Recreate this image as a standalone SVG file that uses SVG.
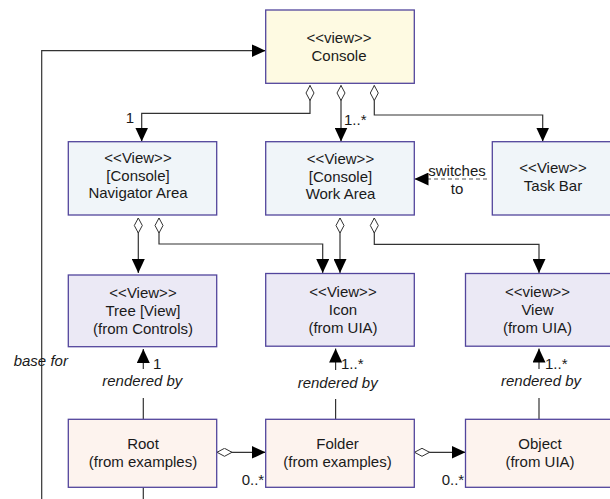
<svg xmlns="http://www.w3.org/2000/svg" width="610" height="499" viewBox="0 0 610 499">
<defs>
<style>
.box{stroke:#52459c;stroke-width:1.3}
.y{fill:#fefae2}
.b{fill:#f0f5f9}
.l{fill:#ebe9f5}
.p{fill:#fdf3ee}
text{font-family:"Liberation Sans",Arial,sans-serif;font-size:15px;fill:#1a1a1a}
.c{text-anchor:middle}
.i{font-style:italic}
.ln{fill:none;stroke:#333;stroke-width:1.2}
.da{stroke-dasharray:4,3;stroke:#555}
</style>
<marker id="ah" markerUnits="userSpaceOnUse" markerWidth="14" markerHeight="13" refX="14" refY="6.5" orient="auto">
<path d="M0,0 L14,6.5 L0,13 z" fill="#000"/>
</marker>
<marker id="dm" markerUnits="userSpaceOnUse" markerWidth="16" markerHeight="10" refX="0.5" refY="4.5" orient="auto">
<path d="M0.5,4.5 L8,0.5 L15.5,4.5 L8,8.5 z" fill="#fff" stroke="#333" stroke-width="1"/>
</marker>
</defs>

<g id="connectors">
<path class="ln" d="M143.3,487 V510 H41.7 V50.7 H265.5" marker-end="url(#ah)"/>
<path class="ln" d="M310,85.5 V113.3 H141.7 V141.5" marker-start="url(#dm)" marker-end="url(#ah)"/>
<path class="ln" d="M341,85.5 V141.5" marker-start="url(#dm)" marker-end="url(#ah)"/>
<path class="ln" d="M374.3,85.5 V115 H542.7 V141.5" marker-start="url(#dm)" marker-end="url(#ah)"/>
<path class="ln da" d="M487,179 H414.5" marker-end="url(#ah)"/>
<path class="ln" d="M138.3,218 V273" marker-start="url(#dm)" marker-end="url(#ah)"/>
<path class="ln" d="M159,218 V244 H322.7 V273" marker-start="url(#dm)" marker-end="url(#ah)"/>
<path class="ln" d="M340,218 V273" marker-start="url(#dm)" marker-end="url(#ah)"/>
<path class="ln" d="M374.3,218 V244.3 H539 V273" marker-start="url(#dm)" marker-end="url(#ah)"/>
<path class="ln" d="M143.3,419 V349" marker-end="url(#ah)"/>
<path class="ln" d="M335.6,419 V348.5" marker-end="url(#ah)"/>
<path class="ln" d="M539,419 V348.5" marker-end="url(#ah)"/>
<path class="ln" d="M217,452.3 H265.5" marker-start="url(#dm)" marker-end="url(#ah)"/>
<path class="ln" d="M414.5,452.3 H465.5" marker-start="url(#dm)" marker-end="url(#ah)"/>
<rect x="100" y="369" width="86" height="29" fill="#fff"/>
<rect x="295" y="370" width="86" height="29" fill="#fff"/>
<rect x="498" y="369" width="86" height="29" fill="#fff"/>
<text x="130" y="123" class="c">1</text>
<text x="344" y="125">1..*</text>
<text x="457" y="176" class="c">switches</text>
<text x="457" y="193.5" class="c">to</text>
<text x="40.8" y="366" class="c i">base for</text>
<text x="153" y="368.7">1</text>
<text x="142.3" y="385.6" class="c i">rendered by</text>
<text x="341" y="368.7">1..*</text>
<text x="337.7" y="387.5" class="c i">rendered by</text>
<text x="545" y="368.7">1..*</text>
<text x="541" y="385.6" class="c i">rendered by</text>
<text x="241.7" y="485.4">0..*</text>
<text x="441.7" y="485.4">0..*</text>
</g>

<g id="console">
<rect class="box y" x="265.7" y="10" width="148.6" height="73.3"/>
<text x="339" y="43" class="c">&lt;&lt;view&gt;&gt;</text>
<text x="339" y="60.5" class="c">Console</text>
</g>

<g id="navigator-area">
<rect class="box b" x="68.3" y="141.7" width="148.4" height="73.3"/>
<text x="138" y="163" class="c">&lt;&lt;View&gt;&gt;</text>
<text x="138" y="180.5" class="c">[Console]</text>
<text x="138" y="198" class="c">Navigator Area</text>
</g>

<g id="work-area">
<rect class="box b" x="265.7" y="141.7" width="148.6" height="73.3"/>
<text x="340.5" y="164" class="c">&lt;&lt;View&gt;&gt;</text>
<text x="340.5" y="181.5" class="c">[Console]</text>
<text x="340.5" y="199" class="c">Work Area</text>
</g>

<g id="task-bar">
<rect class="box b" x="492.3" y="141.7" width="122" height="73.3"/>
<text x="553" y="173" class="c">&lt;&lt;View&gt;&gt;</text>
<text x="553" y="191.3" class="c">Task Bar</text>
</g>

<g id="tree">
<rect class="box l" x="68.3" y="275" width="148.4" height="71.7"/>
<text x="143" y="298" class="c">&lt;&lt;View&gt;&gt;</text>
<text x="143" y="316" class="c">Tree [View]</text>
<text x="143" y="333.6" class="c">(from Controls)</text>
</g>

<g id="icon">
<rect class="box l" x="265.7" y="273.5" width="148.6" height="72.7"/>
<text x="343" y="297" class="c">&lt;&lt;View&gt;&gt;</text>
<text x="343" y="315" class="c">Icon</text>
<text x="343" y="332.5" class="c">(from UIA)</text>
</g>

<g id="view">
<rect class="box l" x="465.5" y="273.5" width="149" height="72.7"/>
<text x="537.5" y="297" class="c">&lt;&lt;view&gt;&gt;</text>
<text x="537.5" y="315" class="c">View</text>
<text x="537.5" y="332.5" class="c">(from UIA)</text>
</g>

<g id="root">
<rect class="box p" x="68.3" y="419.3" width="148.4" height="68"/>
<text x="143" y="449.3" class="c">Root</text>
<text x="143" y="467" class="c">(from examples)</text>
</g>

<g id="folder">
<rect class="box p" x="265.7" y="419.3" width="148.6" height="68"/>
<text x="337.5" y="449.3" class="c">Folder</text>
<text x="337.5" y="467" class="c">(from examples)</text>
</g>

<g id="object">
<rect class="box p" x="465.5" y="419.3" width="149" height="68"/>
<text x="540" y="449.3" class="c">Object</text>
<text x="540" y="467" class="c">(from UIA)</text>
</g>
</svg>
